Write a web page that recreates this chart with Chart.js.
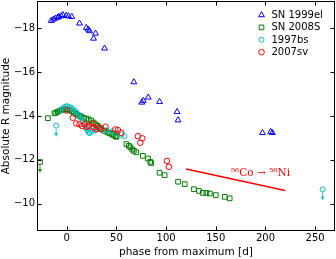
<!DOCTYPE html>
<html>
<head>
<meta charset="utf-8">
<script src="https://cdn.jsdelivr.net/npm/chart.js@4/dist/chart.umd.min.js"></script>
<style>
html, body { margin: 0; padding: 0; background: #fff; }
#wrap { width: 336px; height: 259px; }
</style>
</head>
<body>
<div id="wrap"><canvas id="myChart"></canvas></div>
<script>
// axis ticks
var xTicks = [0, 50, 100, 150, 200, 250];
var yTicks = [-18, -16, -14, -12, -10];

// SN 1999el (blue triangles)
var el_phase = [-15.7, -13.4, -11.4, -9.1, -8.1, -5.6, -4, -0.6, 1.7, 5, 12.8, 19.6, 21.6, 22.9, 28.9, 26.9, 38,
                67.5, 75.5, 77, 82, 93.4, 111, 112, 197, 205.3, 207];
var el_mag = [-18.35, -18.41, -18.46, -18.5, -18.53, -18.56, -18.62, -18.58, -18.56, -18.53, -18.23, -18.03, -17.95, -17.88, -17.77, -17.54, -17.09,
              -15.55, -14.62, -14.7, -14.85, -14.65, -14.19, -13.81, -13.23, -13.28, -13.23];

// SN 2008S (green squares)
var s08_phase = [-19, -12.4, -10.7, -9, -7, -5, -3, -1, 1, 3, 5, 7, 9, 11, 13, 14.5, 17, 19.6, 22, 24.6, 27, 29, 31, 33, 35, 38, 41, 43, 45, 47, 49, 50,
                 60, 62.5, 64, 66, 67.5, 70, 76.6, 81.7, 84, 85, 93.4, 98.5, 112, 118.7, 128, 133, 137, 140.5, 144, 150, 159, 164];
var s08_mag = [-13.9, -14.12, -14.15, -14.2, -14.25, -14.28, -14.3, -14.3, -14.3, -14.28, -14.22, -14.15, -14.1, -14.05, -14.0, -13.98, -13.92, -13.88, -13.84, -13.8, -13.7, -13.62, -13.55, -13.46, -13.4, -13.32, -13.25, -13.22, -13.18, -13.12, -13.08, -13.05,
               -12.72, -12.64, -12.57, -12.47, -12.41, -12.34, -12.18, -12.06, -11.91, -11.85, -11.41, -11.3, -11.0, -10.89, -10.66, -10.58, -10.49, -10.49, -10.46, -10.39, -10.31, -10.24];
var s08_lim_phase = [-27];
var s08_lim_mag = [-11.9];

// 1997bs (cyan)
var bs_phase = [-6, -4, -2, 0, 2, 4, 6, 8, 10, 12, 14, 16, 18, 19, 20, 21, 22, 23, 25, 28, 31, 35, 40, 45, 50, 55, 58];
var bs_mag = [-14.25, -14.35, -14.42, -14.45, -14.42, -14.38, -14.32, -14.25, -14.15, -14.05, -13.92, -13.78, -13.62, -13.52, -13.42, -13.33, -13.25, -13.22, -13.3, -13.36, -13.4, -13.38, -13.35, -13.3, -13.22, -13.14, -13.08];
var bs_lim_phase = [-10.7, 257.5];
var bs_lim_mag = [-13.56, -10.65];

// 2007sv (red circles)
var sv_phase = [0, 6, 9.5, 12.8, 15.5, 17.8, 20.2, 22.2, 25.6, 26.9, 29.6, 32.3, 34.7, 39, 48.8, 51.4, 54.8, 71.6, 74, 76, 100.8, 102.8];
var sv_mag = [-14.25, -13.92, -13.66, -13.62, -13.54, -13.62, -13.51, -13.55, -13.66, -13.48, -13.39, -13.48, -13.39, -13.51, -13.39, -13.36, -13.23, -13.08, -12.78, -12.98, -11.95, -11.68];

// 56Co -> 56Ni decay slope
var co_phase = [120, 220];
var co_mag = [-11.58, -10.6];
var co_label = '\u2075\u2076Co \u2192 \u2075\u2076Ni';
var co_label_pos = [195, -11.39];

var legendOrder = ['SN 1999el', 'SN 2008S', '1997bs', '2007sv'];

function pts(xs, ys) {
    var out = [];
    for (let i = 0; i < xs.length; i++) out.push({ x: xs[i], y: ys[i] });
    return out;
}
function minus(v) { return String(v).replace('-', '\u2212'); }

var BLUE = '#0000ff', GREEN = '#008000', CYAN = '#00bfbf', RED = '#ff0000';
var NONE = 'rgba(0,0,0,0)';

function series(label, data, color, style, r, order, extra) {
    var d = {
        label: label, data: data, borderColor: color, backgroundColor: NONE,
        pointBackgroundColor: NONE, pointBorderColor: color,
        pointStyle: style, pointRadius: r, pointBorderWidth: 1, showLine: false, order: order
    };
    return Object.assign(d, extra || {});
}

var inPlot = {
    id: 'inPlot',
    afterDatasetsDraw(chart) {
        const ctx = chart.ctx;
        // upper limit arrows
        chart.data.datasets.forEach(function (ds, i) {
            if (!ds.upperLimit) return;
            chart.getDatasetMeta(i).data.forEach(function (p) {
                ctx.save();
                ctx.globalAlpha = 0.8;
                ctx.strokeStyle = ds.borderColor;
                ctx.fillStyle = ds.borderColor;
                ctx.lineWidth = 1;
                ctx.beginPath();
                ctx.moveTo(p.x, p.y + 3);
                ctx.lineTo(p.x, p.y + 8);
                ctx.stroke();
                ctx.beginPath();
                ctx.moveTo(p.x - 2.2, p.y + 7);
                ctx.lineTo(p.x + 2.2, p.y + 7);
                ctx.lineTo(p.x, p.y + 11);
                ctx.closePath();
                ctx.fill();
                ctx.restore();
            });
        });
    },
    afterDraw(chart) {
        const ctx = chart.ctx, a = chart.chartArea, x = chart.scales.x, y = chart.scales.y;
        ctx.save();
        // annotation
        ctx.fillStyle = RED;
        ctx.font = '10.5px "DejaVu Serif"';
        ctx.textAlign = 'center';
        ctx.textBaseline = 'middle';
        ctx.fillText(co_label, x.getPixelForValue(co_label_pos[0]), y.getPixelForValue(co_label_pos[1]));
        // frame
        ctx.strokeStyle = '#000';
        ctx.lineWidth = 1;
        const L = Math.round(a.left) + 0.5, R = Math.round(a.right) - 0.5, T = Math.round(a.top) + 0.5, B = Math.round(a.bottom) - 0.5;
        ctx.strokeRect(L, T, R - L, B - T);
        // inward ticks on all sides
        ctx.beginPath();
        xTicks.forEach(function (v) {
            const px = Math.round(x.getPixelForValue(v)) + 0.5;
            ctx.moveTo(px, B); ctx.lineTo(px, B - 4);
            ctx.moveTo(px, T); ctx.lineTo(px, T + 4);
        });
        yTicks.forEach(function (v) {
            const py = Math.round(y.getPixelForValue(v)) + 0.5;
            ctx.moveTo(L, py); ctx.lineTo(L + 4, py);
            ctx.moveTo(R, py); ctx.lineTo(R - 4, py);
        });
        ctx.stroke();
        // legend
        ctx.font = '10px "DejaVu Sans"';
        ctx.textAlign = 'left';
        legendOrder.forEach(function (name, i) {
            const d = chart.data.datasets.find(function (ds) { return ds.label === name; });
            const cy = a.top + 14 + i * 12.4;
            const mx = a.right - 73.5;
            ctx.save();
            ctx.strokeStyle = d.borderColor;
            ctx.fillStyle = NONE;
            ctx.lineWidth = 1;
            Chart.helpers.drawPoint(ctx, { pointStyle: d.pointStyle, radius: d.pointRadius, rotation: 0, borderWidth: 1 }, mx, cy);
            ctx.restore();
            ctx.fillStyle = '#000';
            ctx.fillText(d.label, mx + 10, cy + 0.5);
        });
        ctx.restore();
    }
};

Chart.defaults.font.family = '"DejaVu Sans"';
Chart.defaults.color = '#000';

var ctx = document.getElementById('myChart');
var chart = new Chart(ctx, {
    type: 'scatter',
    data: {
        datasets: [
            series('2007sv', pts(sv_phase, sv_mag), RED, 'circle', 2.8, 0),
            series('1997bs', pts(bs_phase, bs_mag), CYAN, 'circle', 2.5, 1),
            series('1997bs lim', pts(bs_lim_phase, bs_lim_mag), CYAN, 'circle', 2.5, 1, { upperLimit: true }),
            series('SN 2008S', pts(s08_phase, s08_mag), GREEN, 'rect', 3.3, 2),
            series('2008S lim', pts(s08_lim_phase, s08_lim_mag), GREEN, 'rect', 3.3, 2, { upperLimit: true }),
            series('SN 1999el', pts(el_phase, el_mag), BLUE, 'triangle', 3.4, 3),
            {
                label: 'Co', data: pts(co_phase, co_mag), borderColor: RED, borderWidth: 1.5,
                showLine: true, pointRadius: 0, order: 4
            }
        ]
    },
    options: {
        responsive: true,
        maintainAspectRatio: false,
        animation: false,
        events: [],
        layout: { autoPadding: false, padding: { top: 1, right: 1, left: 0, bottom: 0 } },
        plugins: { legend: { display: false }, tooltip: { enabled: false } },
        scales: {
            x: {
                type: 'linear', min: -30, max: 270,
                grid: { display: false, drawTicks: false },
                border: { display: false },
                ticks: { padding: 1, font: { size: 10 }, callback: minus },
                afterBuildTicks: function (s) { s.ticks = xTicks.map(function (v) { return { value: v }; }); },
                afterFit: function (s) { s.height = 28; s.paddingLeft = 0; s.paddingRight = 0; },
                title: { display: true, text: 'phase from maximum [d]', padding: { top: 0, bottom: 0 }, font: { size: 10.5 } }
            },
            y: {
                type: 'linear', min: -19.25, max: -8.75, reverse: true,
                grid: { display: false, drawTicks: false },
                border: { display: false },
                ticks: { padding: 2, font: { size: 10 }, callback: minus },
                afterBuildTicks: function (s) { s.ticks = yTicks.map(function (v) { return { value: v }; }); },
                afterFit: function (s) { s.width = 37; s.paddingTop = 0; s.paddingBottom = 0; },
                title: { display: true, text: 'Absolute R magnitude', padding: { top: 0, bottom: 0 }, font: { size: 10.5 } }
            }
        }
    },
    plugins: [inPlot]
});
</script>
</body>
</html>
